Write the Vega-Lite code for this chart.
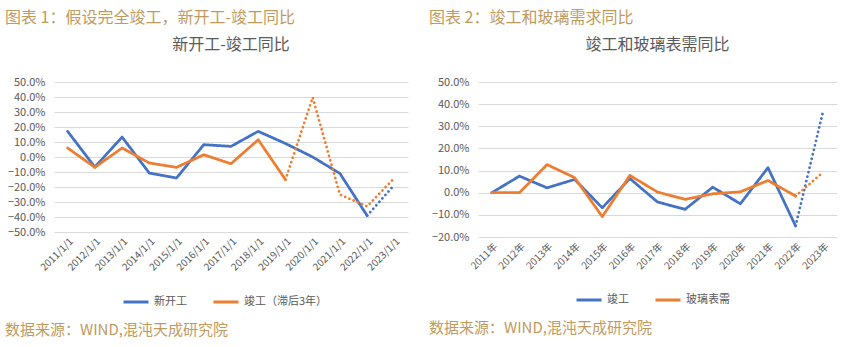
{
  "$schema": "https://vega.github.io/schema/vega-lite/v6.json",
  "background": "white",
  "padding": {"left": 5, "top": 10, "right": 0, "bottom": 0},
  "config": {
    "font": "Noto Sans CJK SC",
    "view": {"stroke": null},
    "concat": {"spacing": 21},
    "axis": {"labelColor": "#595959", "labelFontSize": 10, "gridColor": "#d9d9d9", "domain": false, "ticks": false, "title": null},
    "legend": {"labelColor": "#595959", "labelFontSize": 11, "symbolType": "stroke", "symbolStrokeWidth": 3, "symbolSize": 625, "columnPadding": 20, "title": null, "orient": "none", "direction": "horizontal"}
  },
  "datasets": {
    "d1": [
      {"year": "2011/1/1", "series": "新开工", "style": "solid", "value": 0.171},
      {"year": "2012/1/1", "series": "新开工", "style": "solid", "value": -0.067},
      {"year": "2013/1/1", "series": "新开工", "style": "solid", "value": 0.133},
      {"year": "2014/1/1", "series": "新开工", "style": "solid", "value": -0.107},
      {"year": "2015/1/1", "series": "新开工", "style": "solid", "value": -0.14},
      {"year": "2016/1/1", "series": "新开工", "style": "solid", "value": 0.082},
      {"year": "2017/1/1", "series": "新开工", "style": "solid", "value": 0.071},
      {"year": "2018/1/1", "series": "新开工", "style": "solid", "value": 0.171},
      {"year": "2019/1/1", "series": "新开工", "style": "solid", "value": 0.09},
      {"year": "2020/1/1", "series": "新开工", "style": "solid", "value": 0.0},
      {"year": "2021/1/1", "series": "新开工", "style": "solid", "value": -0.11},
      {"year": "2022/1/1", "series": "新开工", "style": "solid", "value": -0.391},
      {"year": "2022/1/1", "series": "新开工", "style": "dot", "value": -0.391},
      {"year": "2023/1/1", "series": "新开工", "style": "dot", "value": -0.185},
      {"year": "2011/1/1", "series": "竣工（滞后3年）", "style": "solid", "value": 0.06},
      {"year": "2012/1/1", "series": "竣工（滞后3年）", "style": "solid", "value": -0.069},
      {"year": "2013/1/1", "series": "竣工（滞后3年）", "style": "solid", "value": 0.06},
      {"year": "2014/1/1", "series": "竣工（滞后3年）", "style": "solid", "value": -0.04},
      {"year": "2015/1/1", "series": "竣工（滞后3年）", "style": "solid", "value": -0.069},
      {"year": "2016/1/1", "series": "竣工（滞后3年）", "style": "solid", "value": 0.015},
      {"year": "2017/1/1", "series": "竣工（滞后3年）", "style": "solid", "value": -0.045},
      {"year": "2018/1/1", "series": "竣工（滞后3年）", "style": "solid", "value": 0.115},
      {"year": "2019/1/1", "series": "竣工（滞后3年）", "style": "solid", "value": -0.151},
      {"year": "2019/1/1", "series": "竣工（滞后3年）", "style": "dot", "value": -0.151},
      {"year": "2020/1/1", "series": "竣工（滞后3年）", "style": "dot", "value": 0.397},
      {"year": "2021/1/1", "series": "竣工（滞后3年）", "style": "dot", "value": -0.251},
      {"year": "2022/1/1", "series": "竣工（滞后3年）", "style": "dot", "value": -0.329},
      {"year": "2023/1/1", "series": "竣工（滞后3年）", "style": "dot", "value": -0.14}
    ],
    "d2": [
      {"year": "2011年", "series": "竣工", "style": "solid", "value": 0.0},
      {"year": "2012年", "series": "竣工", "style": "solid", "value": 0.075},
      {"year": "2013年", "series": "竣工", "style": "solid", "value": 0.022},
      {"year": "2014年", "series": "竣工", "style": "solid", "value": 0.06},
      {"year": "2015年", "series": "竣工", "style": "solid", "value": -0.068},
      {"year": "2016年", "series": "竣工", "style": "solid", "value": 0.064},
      {"year": "2017年", "series": "竣工", "style": "solid", "value": -0.042},
      {"year": "2018年", "series": "竣工", "style": "solid", "value": -0.075},
      {"year": "2019年", "series": "竣工", "style": "solid", "value": 0.025},
      {"year": "2020年", "series": "竣工", "style": "solid", "value": -0.05},
      {"year": "2021年", "series": "竣工", "style": "solid", "value": 0.113},
      {"year": "2022年", "series": "竣工", "style": "solid", "value": -0.15},
      {"year": "2022年", "series": "竣工", "style": "dot", "value": -0.15},
      {"year": "2023年", "series": "竣工", "style": "dot", "value": 0.37},
      {"year": "2011年", "series": "玻璃表需", "style": "solid", "value": 0.0},
      {"year": "2012年", "series": "玻璃表需", "style": "solid", "value": 0.0},
      {"year": "2013年", "series": "玻璃表需", "style": "solid", "value": 0.127},
      {"year": "2014年", "series": "玻璃表需", "style": "solid", "value": 0.068},
      {"year": "2015年", "series": "玻璃表需", "style": "solid", "value": -0.108},
      {"year": "2016年", "series": "玻璃表需", "style": "solid", "value": 0.078},
      {"year": "2017年", "series": "玻璃表需", "style": "solid", "value": 0.003},
      {"year": "2018年", "series": "玻璃表需", "style": "solid", "value": -0.03},
      {"year": "2019年", "series": "玻璃表需", "style": "solid", "value": -0.005},
      {"year": "2020年", "series": "玻璃表需", "style": "solid", "value": 0.004},
      {"year": "2021年", "series": "玻璃表需", "style": "solid", "value": 0.055},
      {"year": "2022年", "series": "玻璃表需", "style": "solid", "value": -0.015},
      {"year": "2022年", "series": "玻璃表需", "style": "dot", "value": -0.015},
      {"year": "2023年", "series": "玻璃表需", "style": "dot", "value": 0.093}
    ]
  },
  "resolve": {"scale": {"color": "independent", "strokeDash": "independent"}, "legend": {"color": "independent"}},
  "hconcat": [
    {
      "title": {"text": "数据来源：WIND,混沌天成研究院", "orient": "bottom", "anchor": "start", "color": "#BF9A5E", "fontSize": 15, "fontWeight": "normal", "offset": 15},
      "vconcat": [
        {
          "title": {"text": "图表 1：假设完全竣工，新开工-竣工同比", "anchor": "start", "color": "#BF9A5E", "fontSize": 16, "fontWeight": "normal", "offset": 11},
          "vconcat": [
            {
              "width": 354,
              "height": 150,
              "title": {"text": "新开工-竣工同比", "fontSize": 16, "color": "#595959", "fontWeight": "normal", "offset": 23},
              "data": {"name": "d1"},
              "mark": {"type": "line", "strokeWidth": 2.75, "strokeCap": "round", "strokeJoin": "round"},
              "encoding": {
                "x": {"field": "year", "type": "ordinal", "scale": {"type": "point", "padding": 0.5}, "axis": {"labelAngle": -45, "grid": false, "labelPadding": 4}},
                "y": {"field": "value", "type": "quantitative", "scale": {"domain": [-0.5, 0.5], "nice": false}, "axis": {"values": [-0.5, -0.4, -0.3, -0.2, -0.1, 0, 0.1, 0.2, 0.3, 0.4, 0.5], "format": ".1%", "labelFontSize": 11, "labelPadding": 9, "minExtent": 49, "maxExtent": 49}},
                "color": {"field": "series", "type": "nominal", "scale": {"domain": ["新开工", "竣工（滞后3年）"], "range": ["#4472C4", "#ED7D31"]}, "legend": {"legendX": 68, "legendY": 206}},
                "strokeDash": {"field": "style", "type": "nominal", "scale": {"domain": ["solid", "dot"], "range": [[1, 0], [0.1, 4.5]]}, "legend": null}
              }
            }
          ]
        }
      ]
    },
    {
      "title": {"text": "数据来源：WIND,混沌天成研究院", "orient": "bottom", "anchor": "start", "color": "#BF9A5E", "fontSize": 15, "fontWeight": "normal", "offset": 15},
      "vconcat": [
        {
          "title": {"text": "图表 2：竣工和玻璃需求同比", "anchor": "start", "color": "#BF9A5E", "fontSize": 16, "fontWeight": "normal", "offset": 11},
          "vconcat": [
            {
              "width": 359,
              "height": 155,
              "title": {"text": "竣工和玻璃表需同比", "fontSize": 16, "color": "#595959", "fontWeight": "normal", "offset": 23},
              "data": {"name": "d2"},
              "mark": {"type": "line", "strokeWidth": 2.75, "strokeCap": "round", "strokeJoin": "round"},
              "encoding": {
                "x": {"field": "year", "type": "ordinal", "scale": {"type": "point", "padding": 0.5}, "axis": {"labelAngle": -45, "grid": false, "labelPadding": 4}},
                "y": {"field": "value", "type": "quantitative", "scale": {"domain": [-0.2, 0.5], "nice": false}, "axis": {"values": [-0.2, -0.1, 0, 0.1, 0.2, 0.3, 0.4, 0.5], "format": ".1%", "labelFontSize": 11, "labelPadding": 9, "minExtent": 49, "maxExtent": 49}},
                "color": {"field": "series", "type": "nominal", "scale": {"domain": ["竣工", "玻璃表需"], "range": ["#4472C4", "#ED7D31"]}, "legend": {"legendX": 97, "legendY": 204}},
                "strokeDash": {"field": "style", "type": "nominal", "scale": {"domain": ["solid", "dot"], "range": [[1, 0], [0.1, 4.5]]}, "legend": null}
              }
            }
          ]
        }
      ]
    }
  ]
}
